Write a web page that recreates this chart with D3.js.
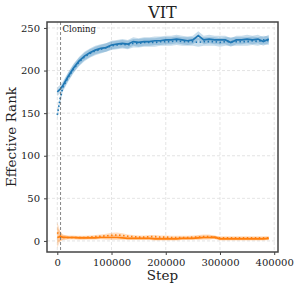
<!DOCTYPE html>
<html>
<head>
<script src="https://d3js.org/d3.v7.min.js"></script>
<style>
  body { margin: 0; background: #fff; }
  text { font-family: "DejaVu Serif", serif; fill: #222; }
</style>
</head>
<body>
<script>
  var width = 299, height = 290;
  var margin = {top: 22, right: 21, bottom: 38, left: 47};

  // steps (x) shared by all series
  var steps = [0, 5000, 10000, 20000, 30000, 40000, 50000, 60000, 70000, 80000, 90000,
    100000, 110000, 120000, 130000, 140000, 150000, 160000, 170000, 180000, 190000,
    200000, 210000, 220000, 230000, 240000, 250000, 260000, 270000, 280000, 290000,
    300000, 310000, 320000, 330000, 340000, 350000, 360000, 370000, 380000, 390000];

  var blueSolid = [175, 178, 182, 193, 203, 211, 217, 221, 224, 226, 227,
    230, 231, 232, 231, 234, 233, 234, 234, 235, 235,
    236, 236, 237, 236, 235, 236, 241, 236, 237, 236,
    236, 236, 233, 236, 236, 237, 236, 237, 234, 237];
  var blueDotted = [148, 166, 180, 192, 202, 210, 216, 220, 223, 225, 227,
    229, 230, 231, 230, 232, 232, 233, 233, 233, 234,
    234, 234, 235, 234, 234, 234, 233, 234, 234, 234,
    233, 234, 234, 234, 234, 234, 235, 234, 236, 235];
  var orangeSolid = [4, 5, 4.5, 4, 4, 3.5, 3.5, 3.5, 3.5, 4, 4,
    4, 4, 3.5, 3, 3, 3, 3, 3, 2.5, 2.5,
    2.5, 2.5, 2.5, 3, 3, 3, 3.5, 4, 4, 4.5,
    2.5, 2.5, 2.5, 2.5, 2.5, 2.5, 2.5, 2.5, 2.5, 3];
  var orangeDotted = [10, 6, 4, 4, 4, 4, 4, 4.5, 5, 5.5, 6,
    6.5, 7, 6.5, 5.5, 5, 4.5, 4.5, 5, 5, 4.5,
    4.5, 4, 4, 4, 4, 4.5, 4.5, 5, 5, 4,
    3.5, 3.5, 3.5, 3.5, 3.5, 3.5, 3.5, 3.5, 3.5, 3.5];
  var blueSpread = [5, 5, 5, 5, 5, 5, 5, 5, 5, 5, 5,
    5, 5, 5, 5, 5, 5, 5, 5, 5, 5,
    5, 5, 5, 5, 5, 5, 5, 5, 5, 5,
    5, 5, 5, 5, 5, 5, 5, 5, 5, 5];
  var orangeSpread = [12, 6, 3, 2, 2, 2, 2, 2, 2, 2, 2.5,
    3, 3, 2.5, 2, 2, 2, 2, 2, 2, 2,
    2, 2, 2, 2, 2, 2, 2.5, 2.5, 2.5, 2,
    2, 2, 2, 2, 2, 2, 2, 2, 2, 2];

  var xTicks = [0, 100000, 200000, 300000, 400000];
  var yTicks = [0, 50, 100, 150, 200, 250];
  var cloningStep = 6000;

  var svg = d3.select("body").append("svg")
    .attr("width", width)
    .attr("height", height);

  var x = d3.scaleLinear().domain([-19000, 407000])
    .range([margin.left, width - margin.right]);
  var y = d3.scaleLinear().domain([-13, 257])
    .range([height - margin.bottom, margin.top]);

  var plotW = width - margin.left - margin.right;
  var plotH = height - margin.top - margin.bottom;

  // grid
  svg.append("g").selectAll("line").data(xTicks).enter().append("line")
    .attr("x1", d => x(d)).attr("x2", d => x(d))
    .attr("y1", margin.top).attr("y2", height - margin.bottom)
    .style("stroke", "#ddd").style("stroke-width", 0.8).style("stroke-dasharray", "3,2");
  svg.append("g").selectAll("line").data(yTicks).enter().append("line")
    .attr("x1", margin.left).attr("x2", width - margin.right)
    .attr("y1", d => y(d)).attr("y2", d => y(d))
    .style("stroke", "#ddd").style("stroke-width", 0.8).style("stroke-dasharray", "3,2");

  function band(vals, spread, color) {
    var a = d3.area()
      .x((d, i) => x(steps[i]))
      .y0((d, i) => y(d - spread[i]))
      .y1((d, i) => y(d + spread[i]));
    svg.append("path").datum(vals).attr("d", a)
      .style("fill", color).style("opacity", 0.25).style("stroke", "none");
  }
  function line(vals, color, dash) {
    var l = d3.line().x((d, i) => x(steps[i])).y(d => y(d));
    svg.append("path").datum(vals).attr("d", l)
      .style("fill", "none").style("stroke", color).style("stroke-width", 1.7)
      .style("stroke-dasharray", dash);
  }

  band(blueDotted, blueSpread, "#1f77b4");
  band(blueSolid, blueSpread, "#1f77b4");
  band(orangeDotted, orangeSpread, "#ff7f0e");
  band(orangeSolid, orangeSpread, "#ff7f0e");
  line(blueDotted, "#1f77b4", "1.5,2.5");
  line(orangeDotted, "#ff7f0e", "1.5,2.5");
  line(blueSolid, "#1f77b4", null);
  line(orangeSolid, "#ff7f0e", null);

  // cloning marker
  svg.append("line")
    .attr("x1", x(cloningStep)).attr("x2", x(cloningStep))
    .attr("y1", margin.top).attr("y2", height - margin.bottom)
    .style("stroke", "#666").style("stroke-width", 0.8).style("stroke-dasharray", "3,2");
  svg.append("text").attr("x", x(cloningStep) + 2).attr("y", margin.top + 10)
    .style("font-size", "8.5px").text("Cloning");

  // frame
  svg.append("rect").attr("x", margin.left).attr("y", margin.top)
    .attr("width", plotW).attr("height", plotH)
    .style("fill", "none").style("stroke", "#444").style("stroke-width", 1.5);

  var xAxis = svg.append("g").attr("transform", "translate(0," + (height - margin.bottom) + ")")
    .call(d3.axisBottom(x).tickValues(xTicks).tickFormat(d3.format("d")).tickSize(3).tickPadding(4));
  var yAxis = svg.append("g").attr("transform", "translate(" + margin.left + ",0)")
    .call(d3.axisLeft(y).tickValues(yTicks).tickSize(3).tickPadding(4));
  [xAxis, yAxis].forEach(function(g) {
    g.select(".domain").remove();
    g.selectAll("line").style("stroke", "#444");
    g.selectAll("text").style("font-family", "DejaVu Serif, serif").style("font-size", "10px").style("fill", "#222");
  });

  svg.append("text").attr("x", margin.left + plotW / 2).attr("y", 18)
    .attr("text-anchor", "middle").style("font-size", "16px").text("VIT");
  svg.append("text").attr("x", margin.left + plotW / 2).attr("y", 280)
    .attr("text-anchor", "middle").style("font-size", "13.5px").text("Step");
  svg.append("text").attr("transform", "translate(16," + (margin.top + plotH / 2) + ") rotate(-90)")
    .attr("text-anchor", "middle").style("font-size", "13.5px").text("Effective Rank");
</script>
</body>
</html>
